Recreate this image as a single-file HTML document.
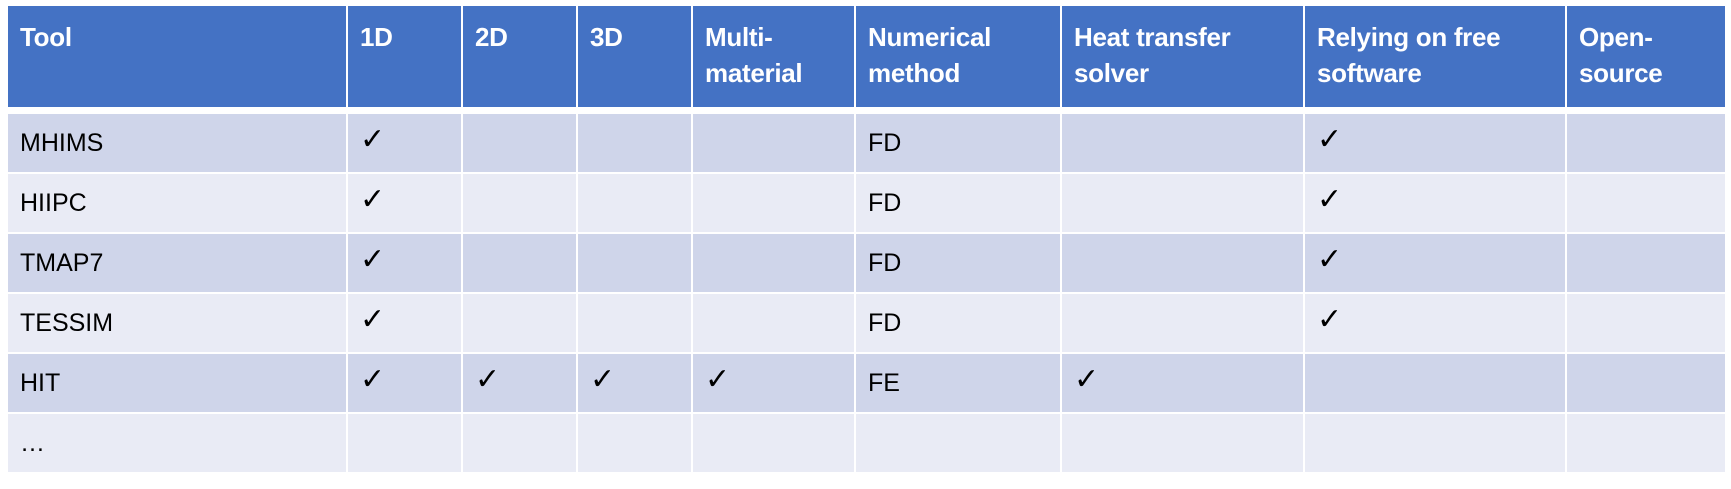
<!DOCTYPE html>
<html><head><meta charset="utf-8"><style>
body{margin:0;width:1731px;height:489px;background:#fff;position:relative;overflow:hidden;font-family:"Liberation Sans",Arial,sans-serif;}
.c{position:absolute;box-sizing:border-box;padding:10px 0 0 12px;font-size:25px;color:#000;}
.h{background:#4472C4;color:#fff;font-weight:bold;line-height:36px;padding-top:13px;font-size:26px;letter-spacing:-0.3px}
.a{background:#CFD5EA}.b{background:#E9EBF5}
.c.r{padding-top:14px;line-height:30px}
.k{font-family:"DejaVu Sans",sans-serif;font-size:30px;font-weight:bold;position:relative;top:-3px}
</style></head><body>
<div id="t"></div>
<script>
var xs=[7,347,462,577,692,855,1061,1304,1566,1726];
var hd=["Tool","1D","2D","3D","Multi-<br>material","Numerical<br>method","Heat transfer<br>solver","Relying on free<br>software","Open-<br>source"];
var K='<span class="k">✓</span>';
var rows=[["MHIMS",K,"","","","FD","",K,""],["HIIPC",K,"","","","FD","",K,""],["TMAP7",K,"","","","FD","",K,""],["TESSIM",K,"","","","FD","",K,""],["HIT",K,K,K,K,"FE",K,"",""],["…","","","","","","","",""]];
var ys=[113,173,233,293,353,413,473];
var h="";
for(var i=0;i<9;i++){h+='<div class="c h" style="left:'+(xs[i]+1)+'px;top:6px;width:'+(xs[i+1]-xs[i]-2)+'px;height:101px">'+hd[i]+'</div>';}
for(var r=0;r<6;r++)for(var i=0;i<9;i++){h+='<div class="c r '+(r%2?'b':'a')+'" style="left:'+(xs[i]+1)+'px;top:'+(ys[r]+1)+'px;width:'+(xs[i+1]-xs[i]-2)+'px;height:'+(ys[r+1]-ys[r]-2)+'px">'+rows[r][i]+'</div>';}
document.getElementById("t").innerHTML=h;
</script>
</body></html>
